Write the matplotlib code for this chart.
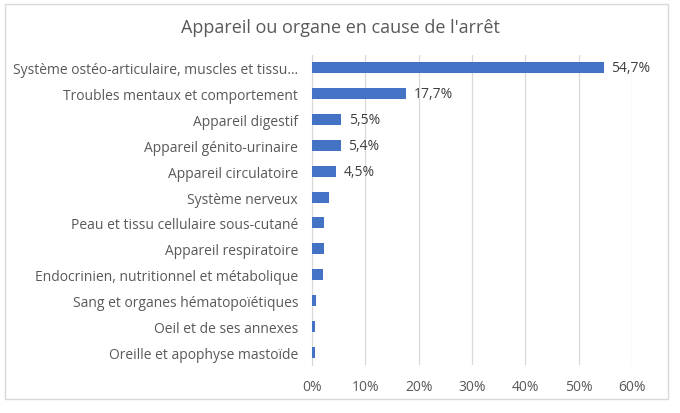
import matplotlib.pyplot as plt
from matplotlib.patches import Rectangle
from matplotlib.ticker import FuncFormatter

categories = [
    "Système ostéo-articulaire, muscles et tissu…",
    "Troubles mentaux et comportement",
    "Appareil digestif",
    "Appareil génito-urinaire",
    "Appareil circulatoire",
    "Système nerveux",
    "Peau et tissu cellulaire sous-cutané",
    "Appareil respiratoire",
    "Endocrinien, nutritionnel et métabolique",
    "Sang et organes hématopoïétiques",
    "Oeil et de ses annexes",
    "Oreille et apophyse mastoïde",
]
values = [54.7, 17.7, 5.5, 5.4, 4.5, 3.1, 2.3, 2.3, 2.0, 0.8, 0.6, 0.5]
labels = ["54,7%", "17,7%", "5,5%", "5,4%", "4,5%", "", "", "", "", "", "", ""]

plt.rcParams['font.family'] = ['Open Sans', 'DejaVu Sans']

fig = plt.figure(figsize=(6.8, 4.14), dpi=100)
ax = fig.add_axes([312 / 680, 1 - 366 / 414, (632 - 312) / 680, (366 - 56) / 414])

y = list(range(len(categories)))
ax.barh(y, values, height=0.42, color='#4472C4', zorder=3)
for yi, v, lab in zip(y, values, labels):
    if lab:
        ax.text(v + 1.4, yi, lab, va='center', ha='left', fontsize=10, color='#404040')

ax.set_ylim(len(categories) - 0.5, -0.5)
ax.set_xlim(0, 60)
ax.set_xticks(range(0, 61, 10))
ax.xaxis.set_major_formatter(FuncFormatter(lambda v, p: f"{int(v)}%"))
ax.set_yticks(y)
ax.set_yticklabels(categories)
ax.tick_params(axis='both', length=0, labelsize=10, colors='#595959')
ax.tick_params(axis='y', pad=10)
ax.tick_params(axis='x', pad=10)
ax.grid(axis='x', color='#D9D9D9', linewidth=0.9, zorder=0)
for s in ['top', 'right', 'bottom']:
    ax.spines[s].set_visible(False)
ax.spines['left'].set_color('#D9D9D9')

fig.text(0.5, 1 - 28 / 414, "Appareil ou organe en cause de l'arrêt", ha='center', va='center',
         fontsize=13, color='#595959')
fig.patches.append(Rectangle((5 / 680, 1 - 400 / 414), 663 / 680, 395 / 414,
                             transform=fig.transFigure, fill=False, edgecolor='#D9D9D9', linewidth=1))

fig.savefig("out.png", dpi=100)
